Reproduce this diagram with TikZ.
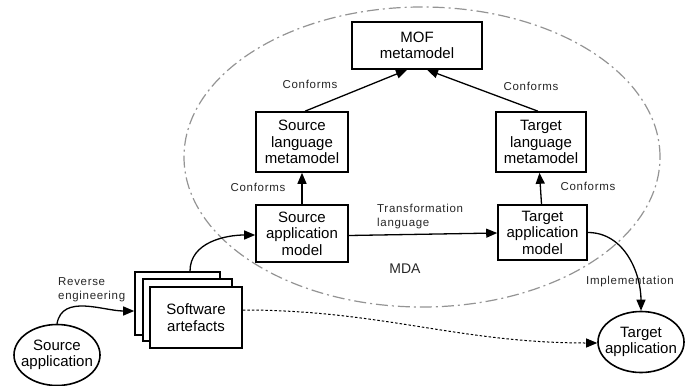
\documentclass[tikz,border=0pt]{standalone}
\usepackage{fontspec}
\setmainfont{Liberation Sans}
\newfontfamily\smallfont[LetterSpace=6]{Liberation Sans}
\usetikzlibrary{arrows.meta,shapes.geometric}

\begin{document}
\begin{tikzpicture}[x=1pt,y=-1pt,
  box/.style={draw,line width=1.6pt,fill=white,align=center,inner sep=0pt,
    font=\fontsize{15}{16.5}\selectfont},
  oval/.style={draw,ellipse,line width=1.6pt,fill=white,inner sep=0pt,
    minimum width=86pt,minimum height=61pt},
  ovaltext/.style={align=center,font=\fontsize{15}{16.5}\selectfont,inner sep=0pt},
  lbl/.style={align=left,inner sep=0pt,text=black!85,
    font=\smallfont\fontsize{11.5}{14}\selectfont},
  conn/.style={line width=1.3pt,-{Triangle[length=11pt,width=9pt]}},
  mda/.style={draw=black!42,line width=1.2pt,dash pattern=on 12pt off 4pt on 2pt off 4pt}
]
\useasboundingbox (0,0) rectangle (692,385);

% MDA region
\draw[mda] (422,157) ellipse [x radius=238pt, y radius=150pt];
\node[inner sep=0pt,font=\fontsize{14}{16}\selectfont,text=black!85] (mdalbl) at (405,269) {MDA};

% models and metamodels
\node[box,minimum width=130pt,minimum height=47pt] (mof) at (417,45.5) {MOF\\metamodel};
\node[box,minimum width=92pt,minimum height=60pt] (slm) at (302,142) {Source\\language\\metamodel};
\node[box,minimum width=90pt,minimum height=60pt] (tlm) at (541,142) {Target\\language\\metamodel};
\node[box,minimum width=92pt,minimum height=57pt] (sam) at (302,233.5) {Source\\application\\model};
\node[box,minimum width=89pt,minimum height=55pt] (tam) at (542.5,232.5) {Target\\application\\model};

% stack of software artefacts
\node[box,minimum width=85pt,minimum height=63pt] (back) at (177.5,303.5) {};
\node[box,minimum width=89pt,minimum height=62pt] (mid) at (187.5,310) {};
\node[box,minimum width=92pt,minimum height=61pt] (front) at (196,317.5) {Software\\artefacts};

% applications
\node[oval] (srcapp) at (57,355) {};
\node[ovaltext] (srcapptxt) at (srcapp) {Source\\application};
\node[oval] (tgtapp) at (641,342) {};
\node[ovaltext] (tgtapptxt) at (tgtapp) {Target\\application};

% conformance relations
\draw[conn] ([xshift=3pt]slm.north) -- ([xshift=-10pt]mof.south);
\draw[conn] ([xshift=-3pt]tlm.north) -- ([xshift=10pt]mof.south);
\draw[conn] (sam) -- (slm);
\draw[conn] ([xshift=-1pt]tam.north) -- ([xshift=-1.5pt]tlm.south);
\node[lbl] (c1) at (310,84) {Conforms};
\node[lbl] (c2) at (531,86) {Conforms};
\node[lbl] (c3) at (258,187) {Conforms};
\node[lbl] (c4) at (588,186) {Conforms};

% transformation
\draw[conn] ([yshift=-2pt]sam.east) -- ([yshift=-0.5pt]tam.west);
\node[lbl,anchor=west] (tl) at (377,217) {Transformation\\language};

% reverse engineering and implementation
\draw[conn] (srcapp.north) to[out=80,in=180] ([yshift=-7.5pt]back.west);
\node[lbl,anchor=west] (re) at (58,290) {Reverse\\engineering};
\draw[conn] ([xshift=12.5pt]back.north) to[out=90,in=180] ([yshift=-1.5pt]sam.west);
\draw[conn] (tam.east) to[out=0,in=90] (tgtapp.north);
\node[lbl] (impl) at (630,282) {Implementation};

% direct path from artefacts to target application
\draw[line width=1pt,dash pattern=on 2.5pt off 2pt,-{Triangle[length=11pt,width=9pt]}]
  ([yshift=7.5pt]front.east) to[out=0,in=180] ([yshift=-1pt]tgtapp.west);
\end{tikzpicture}
\end{document}
